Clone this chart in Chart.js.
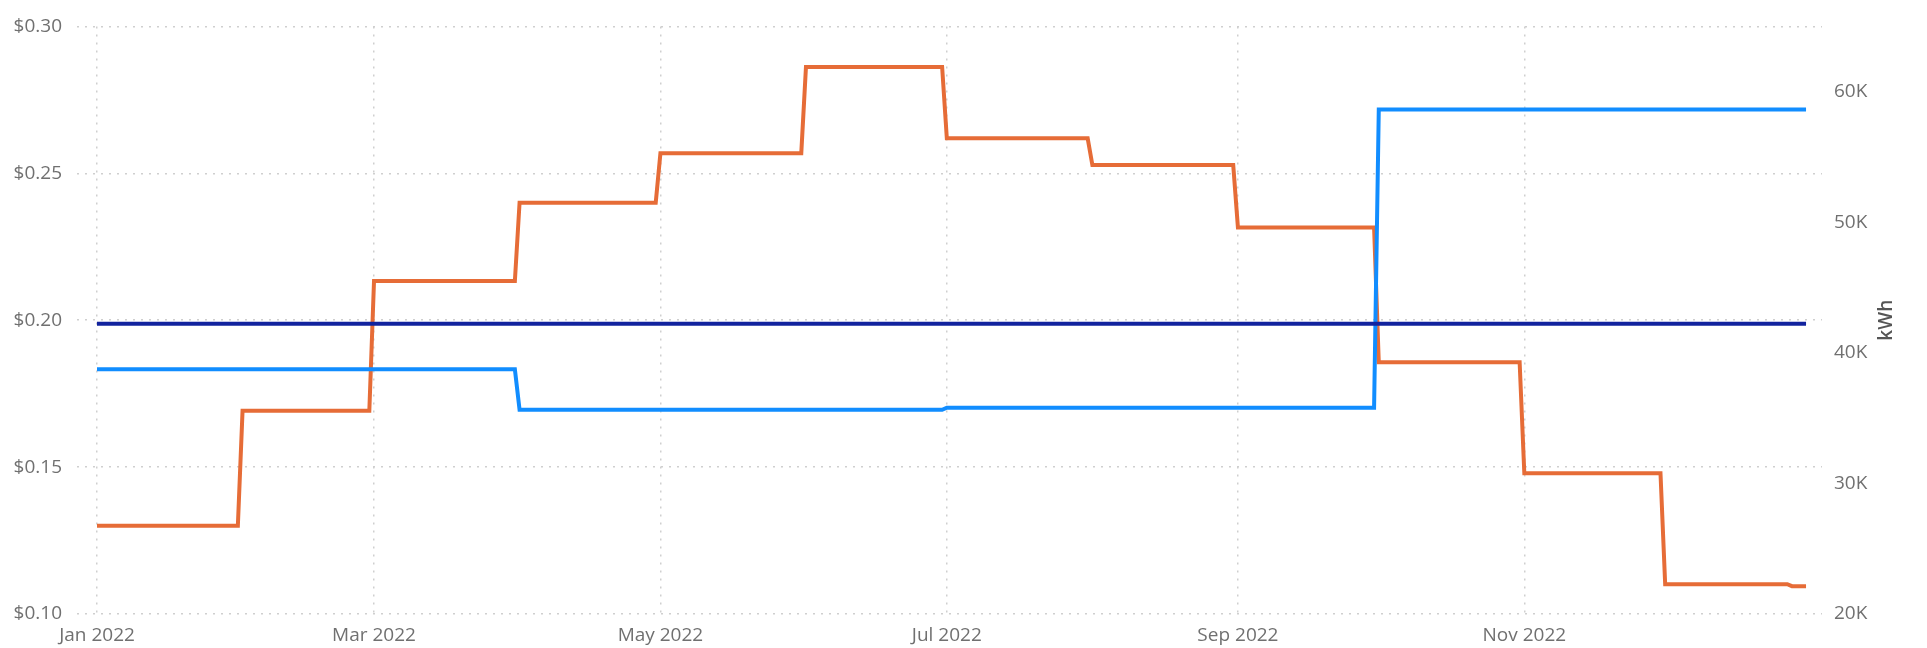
<!DOCTYPE html>
<html>
<head>
<meta charset="utf-8">
<script src="https://cdn.jsdelivr.net/npm/chart.js@4.4.1/dist/chart.umd.min.js"></script>
<style>
  html, body { margin: 0; padding: 0; background: #fff; }
  #wrap { width: 1927px; height: 648px; }
</style>
</head>
<body>
<div id="wrap"><canvas id="chart"></canvas></div>
<script>
// kWh usage, one value per period (starts are dates in 2022)
const usageStart = ["2022-01-01", "2022-02-01", "2022-03-01", "2022-04-01", "2022-05-01", "2022-06-01",
  "2022-07-01", "2022-08-01", "2022-09-01", "2022-10-01", "2022-11-01", "2022-12-01", "2022-12-28"];
const usageKwh = [26750, 35560, 45500, 51500, 55290, 61900, 56430, 54380, 49600, 39280, 30780, 22280, 22130];

// rate per kWh
const rateStart = ["2022-01-01", "2022-04-01", "2022-07-01", "2022-10-01"];
const rateValue = [0.1833, 0.1695, 0.1702, 0.2717];

// average rate (flat)
const avgStart = ["2022-01-01"];
const avgValue = [0.1988];

const lastDay = "2022-12-31";

// axis ticks
const monthTickDates = ["2022-01-01", "2022-03-01", "2022-05-01", "2022-07-01", "2022-09-01", "2022-11-01"];
const monthTickLabels = ["Jan 2022", "Mar 2022", "May 2022", "Jul 2022", "Sep 2022", "Nov 2022"];
const rateTicks = [0.10, 0.15, 0.20, 0.25, 0.30];
const kwhTicks = [20000, 30000, 40000, 50000, 60000];

function dayOf(s) {
  const p = s.split("-").map(Number);
  return (Date.UTC(p[0], p[1] - 1, p[2]) - Date.UTC(2022, 0, 1)) / 864e5;
}

// each period is flat from its start day to the day before the next start
function steps(starts, values) {
  const pts = [];
  for (let i = 0; i < starts.length; i++) {
    const a = dayOf(starts[i]);
    const b = i + 1 < starts.length ? dayOf(starts[i + 1]) - 1 : dayOf(lastDay);
    pts.push({ x: a, y: values[i] });
    pts.push({ x: b, y: values[i] });
  }
  return pts;
}

const tickDays = monthTickDates.map(dayOf);
const font = { family: "'Open Sans', 'Noto Sans', sans-serif", size: 19 };
const grey = "#707070";
const gridColor = "#cfcfcf";

const kwhTitle = {
  id: "kwhTitle",
  afterDraw(chart) {
    const ctx = chart.ctx;
    const a = chart.chartArea;
    ctx.save();
    ctx.translate(1887, (a.top + a.bottom) / 2);
    ctx.rotate(-Math.PI / 2);
    ctx.font = "600 19px 'Open Sans', 'Noto Sans', sans-serif";
    ctx.fillStyle = "#555";
    ctx.textAlign = "center";
    ctx.textBaseline = "middle";
    ctx.fillText("kWh", 0, 0);
    ctx.restore();
  }
};

const ctx = document.getElementById("chart").getContext("2d");
new Chart(ctx, {
  type: "line",
  data: {
    datasets: [
      {
        label: "Average rate",
        data: steps(avgStart, avgValue),
        yAxisID: "yRate",
        borderColor: "#12239E",
        borderWidth: 4,
        order: 0
      },
      {
        label: "Rate",
        data: steps(rateStart, rateValue),
        yAxisID: "yRate",
        borderColor: "#118DFF",
        borderWidth: 4,
        order: 1
      },
      {
        label: "kWh",
        data: steps(usageStart, usageKwh),
        yAxisID: "yKwh",
        borderColor: "#E66C37",
        borderWidth: 4,
        order: 2
      }
    ]
  },
  options: {
    responsive: true,
    maintainAspectRatio: false,
    animation: false,
    parsing: false,
    elements: {
      point: { radius: 0 },
      line: { tension: 0, fill: false, borderJoinStyle: "miter", borderCapStyle: "butt" }
    },
    layout: { padding: { top: 21, left: 0, right: 0, bottom: 0 } },
    plugins: { legend: { display: false }, tooltip: { enabled: false } },
    scales: {
      x: {
        type: "linear",
        min: -4.26,
        max: 367.4,
        afterBuildTicks: (s) => { s.ticks = tickDays.map(v => ({ value: v })); },
        afterFit: (s) => { s.height = 34; },
        ticks: {
          font: font,
          color: grey,
          padding: 10,
          maxRotation: 0,
          autoSkip: false,
          callback: (v) => monthTickLabels[tickDays.indexOf(v)]
        },
        grid: { color: gridColor, lineWidth: 1.5, drawTicks: false },
        border: { display: false, dash: [2, 6] }
      },
      yRate: {
        position: "left",
        min: 0.10,
        max: 0.30,
        afterBuildTicks: (s) => { s.ticks = rateTicks.map(v => ({ value: v })); },
        afterFit: (s) => { s.width = 77; },
        ticks: {
          font: font,
          color: grey,
          padding: 15,
          callback: (v) => "$" + v.toFixed(2)
        },
        grid: { color: gridColor, lineWidth: 1.5, drawTicks: false },
        border: { display: false, dash: [2, 6] }
      },
      yKwh: {
        position: "right",
        min: 20000,
        max: 65000,
        afterBuildTicks: (s) => { s.ticks = kwhTicks.map(v => ({ value: v })); },
        afterFit: (s) => { s.width = 105; },
        ticks: {
          font: font,
          color: grey,
          padding: 12,
          callback: (v) => (v / 1000) + "K"
        },
        grid: { display: false, drawTicks: false },
        border: { display: false }
      }
    }
  },
  plugins: [kwhTitle]
});
</script>
</body>
</html>
